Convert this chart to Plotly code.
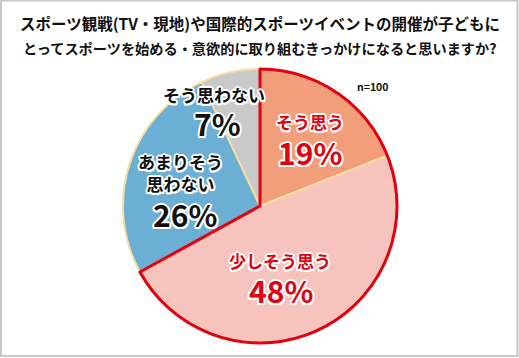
import plotly.graph_objects as go

categories = ["そう思う", "少しそう思う", "あまりそう思わない", "そう思わない"]
values = [19, 48, 26, 7]
label_text = ["そう思う", "少しそう思う", "あまりそう<br>思わない", "そう思わない"]
colors = ["#F39E7B", "#F6C4BD", "#6CAFD4", "#C9C9C9"]
text_colors = ["#E3000F", "#E3000F", "#111111", "#111111"]
group_values = [values[0] + values[1], values[2] + values[3]]

title_lines = ["スポーツ観戦(TV・現地)や国際的スポーツイベントの開催が子どもに",
               "とってスポーツを始める・意欲的に取り組むきっかけになると思いますか?"]
n_label = "n=100"

W, H = 519, 358
cx, cy, r = 260, 206, 137
dom_x = [(cx - r) / W, (cx + r) / W]
dom_y = [1 - (cy + r) / H, 1 - (cy - r) / H]

FONT = "Noto Sans CJK JP"
shadow = ("2px 0 0 #fff, -2px 0 0 #fff, 0 2px 0 #fff, 0 -2px 0 #fff, "
          "1.5px 1.5px 0 #fff, -1.5px -1.5px 0 #fff, 1.5px -1.5px 0 #fff, -1.5px 1.5px 0 #fff")

fig = go.Figure()
fig.add_trace(go.Pie(
    labels=categories, values=values, sort=False, direction="clockwise", rotation=0,
    marker=dict(colors=colors, line=dict(color="#F8DCA4", width=2)),
    textinfo="none", hoverinfo="label+percent", domain=dict(x=dom_x, y=dom_y),
    showlegend=False,
))
fig.add_trace(go.Pie(
    labels=["agree", "disagree"], values=group_values, sort=False, direction="clockwise", rotation=0,
    marker=dict(colors=["rgba(0,0,0,0)", "rgba(0,0,0,0)"],
                line=dict(color=["#E3000F", "rgba(0,0,0,0)"], width=[3, 0])),
    textinfo="none", hoverinfo="skip", domain=dict(x=dom_x, y=dom_y),
    showlegend=False,
))


def ann(x, y, text, size, color, sh=None):
    f = dict(family=FONT, size=size, color=color)
    if sh:
        f["shadow"] = sh
    return dict(x=x / W, y=1 - y / H, xref="paper", yref="paper", xanchor="center", yanchor="middle",
                text=text, showarrow=False, font=f, borderpad=0)


# label centre positions (pixels)
label_pos = [(310, 122), (280, 260), (180, 172), (214, 94)]
pct_pos = [(310, 152), (281, 290), (185, 214), (217, 123)]
anns = []
for i in range(len(categories)):
    lx, ly = label_pos[i]
    anns.append(ann(lx, ly, "<b>%s</b>" % label_text[i], 17, text_colors[i], shadow))
    px, py = pct_pos[i]
    anns.append(ann(px, py, "<b>%d%%</b>" % values[i], 30, text_colors[i], shadow))

title_sizes = [15.5, 14.2]
title_y = [23, 48]
for k, t in enumerate(title_lines):
    anns.append(ann(259.5, title_y[k], "<b>%s</b>" % t, title_sizes[k], "#111111"))
anns.append(ann(373, 86, "<b>%s</b>" % n_label, 10.5, "#111111"))

fig.update_layout(
    width=W, height=H, margin=dict(l=0, r=0, t=0, b=0),
    paper_bgcolor="white", plot_bgcolor="white",
    annotations=anns,
    shapes=[dict(type="rect", xref="paper", yref="paper", x0=1 / W, y0=2 / H, x1=1 - 1.5 / W, y1=1 - 0.5 / H,
                 line=dict(color="#C8C8C8", width=2), fillcolor="rgba(0,0,0,0)", layer="below")],
)
fig.write_html("out.html", config={"displayModeBar": False},
               post_script="document.body.style.margin='0';document.body.style.overflow='hidden';")
